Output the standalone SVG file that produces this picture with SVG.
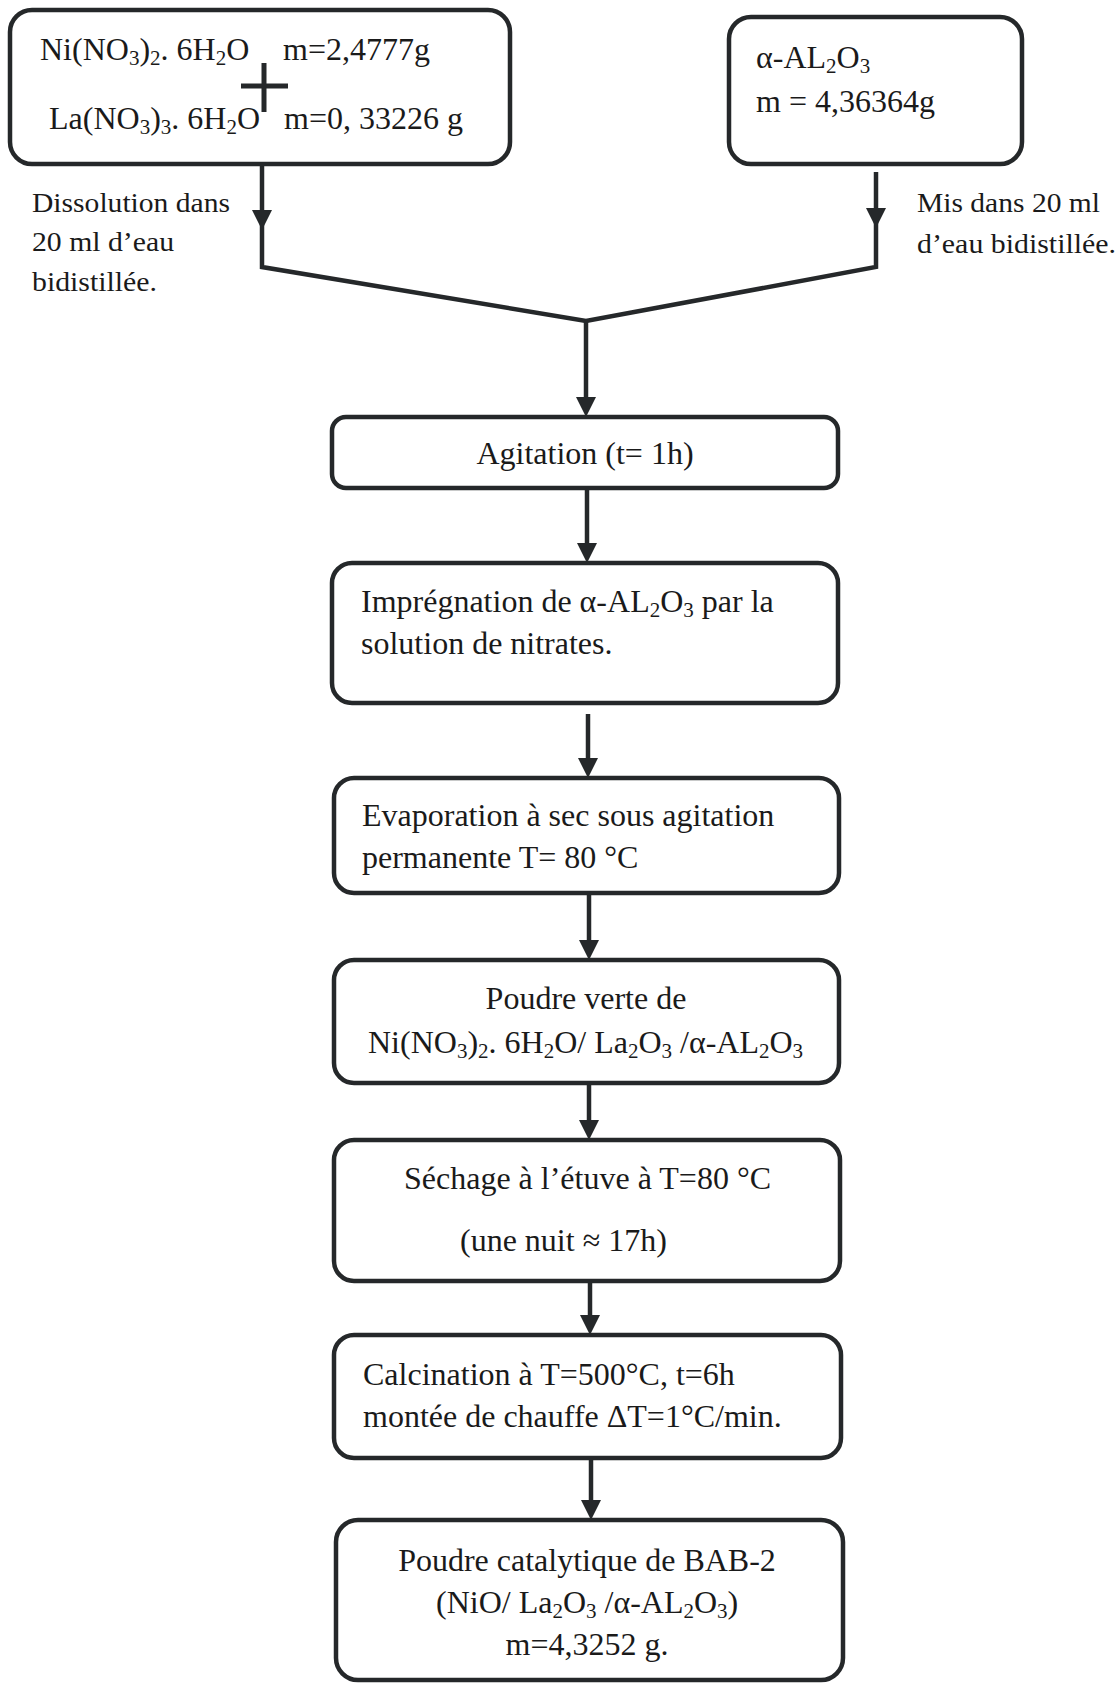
<svg xmlns="http://www.w3.org/2000/svg" width="1119" height="1683" viewBox="0 0 1119 1683">
<style>
.box{fill:#fff;stroke:#25282a;stroke-width:4.5}
.t{font-family:"Liberation Serif","Times New Roman",serif;font-size:32px;fill:#1a1a1a}
.lab{font-family:"Liberation Serif","Times New Roman",serif;font-size:27px;fill:#1a1a1a}
.s{font-size:21px}
.ln{fill:none;stroke:#25282a;stroke-width:4.5;stroke-linejoin:miter}
</style>
<defs>
<marker id="ah" markerUnits="userSpaceOnUse" markerWidth="20" markerHeight="20" viewBox="0 0 20 20" refX="12" refY="10" orient="auto">
<path d="M0,0 L20,10 L0,20 z" fill="#25282a"/>
</marker>
</defs>
<rect width="1119" height="1683" fill="#fff"/>

<g id="connectors">
<path class="ln" d="M262,165 V222" marker-end="url(#ah)"/>
<path class="ln" d="M876,172 V220" marker-end="url(#ah)"/>
<path class="ln" d="M262,218 V267 L586,321 L876,267 V216"/>
<path class="ln" d="M586,321 V409" marker-end="url(#ah)"/>
<path class="ln" d="M587,488 V555" marker-end="url(#ah)"/>
<path class="ln" d="M588,714 V770" marker-end="url(#ah)"/>
<path class="ln" d="M589,895 V952" marker-end="url(#ah)"/>
<path class="ln" d="M589,1085 V1132" marker-end="url(#ah)"/>
<path class="ln" d="M590,1283 V1327" marker-end="url(#ah)"/>
<path class="ln" d="M591,1460 V1512" marker-end="url(#ah)"/>
</g>

<g id="n-nitrates">
<rect class="box" x="10" y="10" width="500" height="154" rx="22"/>
<text class="t" x="40" y="60">Ni(NO<tspan class="s" dy="5">3</tspan><tspan dy="-5">)</tspan><tspan class="s" dy="5">2</tspan><tspan dy="-5">. 6H</tspan><tspan class="s" dy="5">2</tspan><tspan dy="-5">O</tspan></text>
<text class="t" x="283" y="60">m=2,4777g</text>
<path d="M264,63 V112 M241,86 H288" stroke="#25282a" stroke-width="5" fill="none"/>
<text class="t" x="49" y="129">La(NO<tspan class="s" dy="5">3</tspan><tspan dy="-5">)</tspan><tspan class="s" dy="5">3</tspan><tspan dy="-5">. 6H</tspan><tspan class="s" dy="5">2</tspan><tspan dy="-5">O</tspan></text>
<text class="t" x="284" y="129">m=0, 33226 g</text>
</g>

<g id="n-alumina">
<rect class="box" x="729" y="17" width="293" height="147" rx="22"/>
<text class="t" x="756" y="68">α-AL<tspan class="s" dy="5">2</tspan><tspan dy="-5">O</tspan><tspan class="s" dy="5">3</tspan></text>
<text class="t" x="756" y="112">m = 4,36364g</text>
</g>

<g id="lab-left">
<text class="lab" x="32" y="212" textLength="198" lengthAdjust="spacingAndGlyphs">Dissolution dans</text>
<text class="lab" x="32" y="251" textLength="142" lengthAdjust="spacingAndGlyphs">20 ml d’eau</text>
<text class="lab" x="32" y="291" textLength="125" lengthAdjust="spacingAndGlyphs">bidistillée.</text>
</g>
<g id="lab-right">
<text class="lab" x="917" y="212" textLength="183" lengthAdjust="spacingAndGlyphs">Mis dans 20 ml</text>
<text class="lab" x="917" y="253" textLength="199" lengthAdjust="spacingAndGlyphs">d’eau bidistillée.</text>
</g>

<g id="n-agitation">
<rect class="box" x="332" y="417" width="506" height="71" rx="14"/>
<text class="t" x="585" y="464" text-anchor="middle">Agitation (t= 1h)</text>
</g>

<g id="n-impregnation">
<rect class="box" x="332" y="563" width="506" height="140" rx="20"/>
<text class="t" x="361" y="612">Imprégnation de α-AL<tspan class="s" dy="5">2</tspan><tspan dy="-5">O</tspan><tspan class="s" dy="5">3</tspan><tspan dy="-5"> par la</tspan></text>
<text class="t" x="361" y="654">solution de nitrates.</text>
</g>

<g id="n-evaporation">
<rect class="box" x="334" y="778" width="505" height="115" rx="20"/>
<text class="t" x="362" y="826">Evaporation à sec sous agitation</text>
<text class="t" x="362" y="868">permanente T= 80 °C</text>
</g>

<g id="n-poudre-verte">
<rect class="box" x="334" y="960" width="505" height="123" rx="20"/>
<text class="t" x="586" y="1009" text-anchor="middle">Poudre verte de</text>
<text class="t" x="368" y="1053">Ni(NO<tspan class="s" dy="5">3</tspan><tspan dy="-5">)</tspan><tspan class="s" dy="5">2</tspan><tspan dy="-5">. 6H</tspan><tspan class="s" dy="5">2</tspan><tspan dy="-5">O/ La</tspan><tspan class="s" dy="5">2</tspan><tspan dy="-5">O</tspan><tspan class="s" dy="5">3</tspan><tspan dy="-5"> /α-AL</tspan><tspan class="s" dy="5">2</tspan><tspan dy="-5">O</tspan><tspan class="s" dy="5">3</tspan></text>
</g>

<g id="n-sechage">
<rect class="box" x="334" y="1140" width="506" height="141" rx="20"/>
<text class="t" x="404" y="1189">Séchage à l’étuve à T=80 °C</text>
<text class="t" x="460" y="1251">(une nuit ≈ 17h)</text>
</g>

<g id="n-calcination">
<rect class="box" x="334" y="1335" width="507" height="123" rx="20"/>
<text class="t" x="363" y="1385">Calcination à T=500°C, t=6h</text>
<text class="t" x="363" y="1427">montée de chauffe ΔT=1°C/min.</text>
</g>

<g id="n-final">
<rect class="box" x="336" y="1520" width="507" height="160" rx="22"/>
<text class="t" x="587" y="1571" text-anchor="middle">Poudre catalytique de BAB-2</text>
<text class="t" x="436" y="1613">(NiO/ La<tspan class="s" dy="5">2</tspan><tspan dy="-5">O</tspan><tspan class="s" dy="5">3</tspan><tspan dy="-5"> /α-AL</tspan><tspan class="s" dy="5">2</tspan><tspan dy="-5">O</tspan><tspan class="s" dy="5">3</tspan><tspan dy="-5">)</tspan></text>
<text class="t" x="587" y="1655" text-anchor="middle">m=4,3252 g.</text>
</g>
</svg>
